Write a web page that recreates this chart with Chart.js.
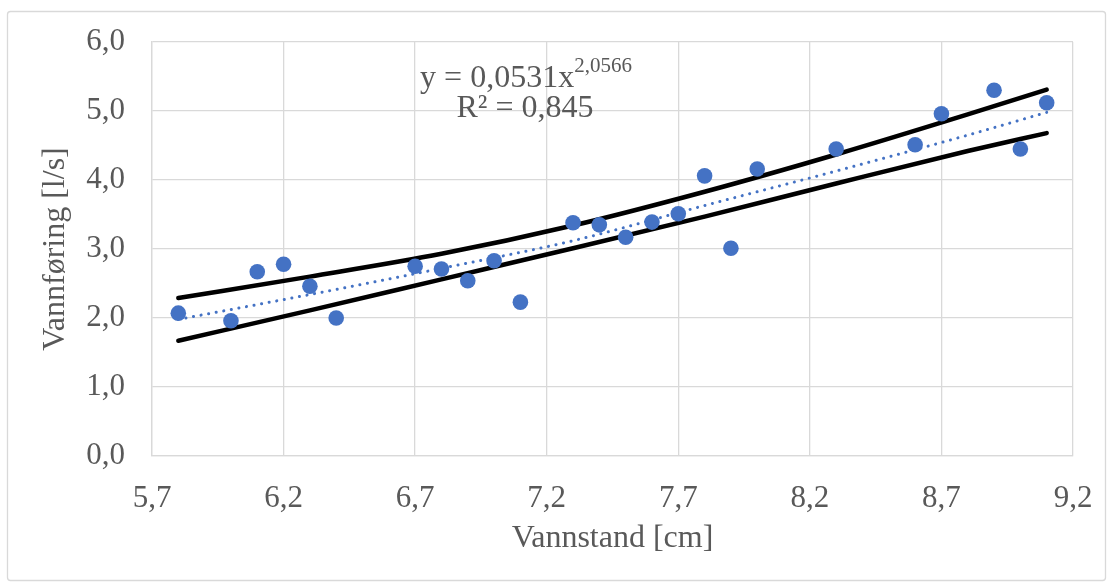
<!DOCTYPE html>
<html>
<head>
<meta charset="utf-8">
<script src="https://cdn.jsdelivr.net/npm/chart.js@4.4.1/dist/chart.umd.min.js"></script>
<style>
  html, body { margin: 0; padding: 0; background: #fff; }
  #wrap { width: 1113px; height: 583px; position: relative; }
</style>
</head>
<body>
<div id="wrap"><canvas id="chart"></canvas></div>
<script>
// ── Data ──
const vannstand = [5.8, 6.0, 6.1, 6.2, 6.3, 6.4, 6.7, 6.8, 6.9, 7.0, 7.1, 7.3, 7.4, 7.5, 7.6, 7.7, 7.8, 7.9, 8.0, 8.3, 8.6, 8.7, 8.9, 9.0, 9.1];
const vannforing = [2.07, 1.96, 2.67, 2.78, 2.46, 2.00, 2.75, 2.71, 2.54, 2.83, 2.23, 3.38, 3.35, 3.17, 3.39, 3.51, 4.06, 3.01, 4.16, 4.45, 4.51, 4.96, 5.30, 4.45, 5.12];

// trendline and band lines, read at a few x positions
const lineX = [5.8, 6.3, 6.8, 7.3, 7.8, 8.3, 8.8, 9.1];
const trendY = [1.98, 2.34, 2.72, 3.12, 3.63, 4.13, 4.65, 4.98];
const upperY = [2.29, 2.60, 2.93, 3.34, 3.83, 4.37, 4.95, 5.31];
const lowerY = [1.67, 2.11, 2.56, 3.01, 3.47, 3.95, 4.42, 4.68];

const xTicks = [5.7, 6.2, 6.7, 7.2, 7.7, 8.2, 8.7, 9.2];
const yTicks = [0, 1, 2, 3, 4, 5, 6];

const BLUE = '#4472C4';
const GRID = '#d9d9d9';
const TEXT = '#595959';
const FONT = "'Liberation Serif', 'Times New Roman', serif";

const pairs = (xs, ys) => xs.map((x, i) => ({ x, y: ys[i] }));
const comma = v => Number(v).toFixed(1).replace('.', ',');

// ── Plugins: outer frame + equation text ──
const framePlugin = {
  id: 'frame',
  beforeDraw(chart) {
    const { ctx } = chart;
    ctx.save();
    ctx.fillStyle = '#fff';
    ctx.fillRect(0, 0, chart.width, chart.height);
    ctx.strokeStyle = GRID;
    ctx.lineWidth = 1.3;
    ctx.beginPath();
    ctx.roundRect(7.5, 11.5, chart.width - 15, chart.height - 14, 3);
    ctx.stroke();
    ctx.restore();
  }
};

const equationPlugin = {
  id: 'equation',
  afterDraw(chart) {
    const { ctx } = chart;
    ctx.save();
    ctx.fillStyle = TEXT;
    ctx.textBaseline = 'alphabetic';
    ctx.textAlign = 'left';
    ctx.font = `32px ${FONT}`;
    const main = 'y = 0,0531x';
    const w1 = ctx.measureText(main).width;
    ctx.font = `21px ${FONT}`;
    const sup = '2,0566';
    const w2 = ctx.measureText(sup).width;
    const x0 = 526 - (w1 + w2) / 2;
    ctx.font = `32px ${FONT}`;
    ctx.fillText(main, x0, 87);
    ctx.font = `21px ${FONT}`;
    ctx.fillText(sup, x0 + w1, 72);
    ctx.font = `32px ${FONT}`;
    ctx.textAlign = 'center';
    ctx.fillText('R² = 0,845', 525, 117);
    ctx.restore();
  }
};

new Chart(document.getElementById('chart'), {
  type: 'scatter',
  data: {
    datasets: [
      {
        label: 'Upper',
        data: pairs(lineX, upperY),
        showLine: true, borderColor: '#000', borderWidth: 4.5,
        pointRadius: 0, cubicInterpolationMode: 'monotone', borderCapStyle: 'round', order: 3,
      },
      {
        label: 'Lower',
        data: pairs(lineX, lowerY),
        showLine: true, borderColor: '#000', borderWidth: 4.5,
        pointRadius: 0, cubicInterpolationMode: 'monotone', borderCapStyle: 'round', order: 3,
      },
      {
        label: 'Trend',
        data: pairs(lineX, trendY),
        showLine: true, borderColor: BLUE, borderWidth: 3,
        borderDash: [0.1, 7.6], borderCapStyle: 'round',
        pointRadius: 0, cubicInterpolationMode: 'monotone', order: 2,
      },
      {
        label: 'Vannføring',
        data: pairs(vannstand, vannforing),
        backgroundColor: BLUE, borderColor: BLUE,
        pointRadius: 7.8, pointHoverRadius: 7.8, borderWidth: 0, order: 1,
      },
    ]
  },
  options: {
    responsive: true,
    maintainAspectRatio: false,
    animation: false,
    layout: { padding: { left: 0, top: 42, right: 40, bottom: 25 } },
    plugins: { legend: { display: false }, tooltip: { enabled: false } },
    scales: {
      x: {
        type: 'linear', min: 5.7, max: 9.2,
        afterBuildTicks: s => { s.ticks = xTicks.map(v => ({ value: v })); },
        afterFit: s => { s.height = 558 - 456; s.paddingLeft = 0; s.paddingRight = 0; },
        ticks: { color: TEXT, font: { family: FONT, size: 31 }, padding: 24, callback: v => comma(v), maxRotation: 0, autoSkip: false },
        grid: { color: GRID, lineWidth: 1.3, drawTicks: false },
        border: { color: GRID, width: 1.3 },
        title: { display: true, text: 'Vannstand [cm]', color: TEXT, font: { family: FONT, size: 32 }, padding: 0 },
      },
      y: {
        min: 0, max: 6,
        afterBuildTicks: s => { s.ticks = yTicks.map(v => ({ value: v })); },
        afterFit: s => { s.width = 152; s.paddingTop = 0; s.paddingBottom = 0; },
        ticks: { color: TEXT, font: { family: FONT, size: 31 }, padding: 27, callback: v => comma(v) },
        grid: { color: GRID, lineWidth: 1.3, drawTicks: false },
        border: { color: GRID, width: 1.3 },
        title: { display: true, text: 'Vannføring [l/s]', color: TEXT, font: { family: FONT, size: 32 }, padding: { top: 36, bottom: 0 } },
      }
    }
  },
  plugins: [framePlugin, equationPlugin]
});
</script>
</body>
</html>
